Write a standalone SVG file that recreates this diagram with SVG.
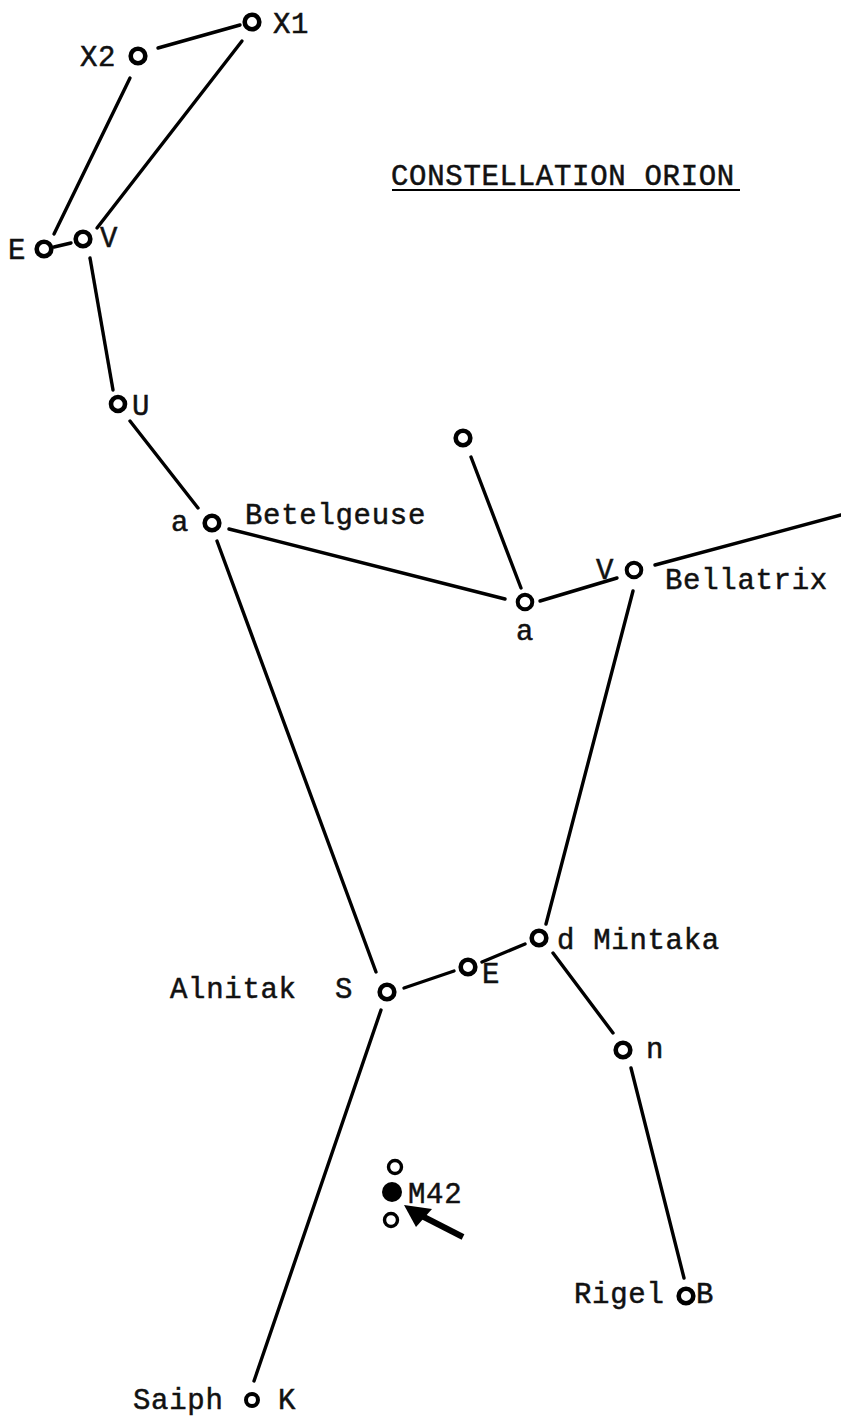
<svg xmlns="http://www.w3.org/2000/svg" width="841" height="1416" viewBox="0 0 841 1416">
<style>
text{font-family:"Liberation Mono","Courier New",monospace;font-size:29px;fill:#111;stroke:#111;stroke-width:0.5;letter-spacing:0.7px}
.star{fill:#fff;stroke:#000;stroke-width:4}
.big{stroke-width:4.6}
.c line{stroke:#000;stroke-width:3.4;stroke-linecap:round}
</style>
<rect width="841" height="1416" fill="#fff"/>
<g id="title">
<text x="391" y="185">CONSTELLATION ORION</text>
<line x1="392" y1="190" x2="740" y2="190" stroke="#000" stroke-width="2"/>
</g>
<g class="c" id="connectors">
<line x1="158" y1="48" x2="240" y2="25"/>
<line x1="242" y1="41" x2="97" y2="228"/>
<line x1="130" y1="78" x2="54" y2="234"/>
<line x1="54" y1="247" x2="71" y2="243"/>
<line x1="90" y1="258" x2="113" y2="390"/>
<line x1="130" y1="421" x2="198" y2="508"/>
<line x1="229" y1="529" x2="505" y2="599"/>
<line x1="471" y1="457" x2="521" y2="588"/>
<line x1="540" y1="601" x2="617" y2="578"/>
<line x1="655" y1="565" x2="841" y2="515"/>
<line x1="633" y1="591" x2="546" y2="924"/>
<line x1="217" y1="541" x2="376" y2="972"/>
<line x1="404" y1="988" x2="454" y2="971"/>
<line x1="482" y1="962" x2="525" y2="944"/>
<line x1="553" y1="953" x2="613" y2="1033"/>
<line x1="631" y1="1068" x2="684" y2="1278"/>
<line x1="381" y1="1010" x2="254" y2="1381"/>
</g>
<g id="arrow">
<line x1="463" y1="1237" x2="420" y2="1215" stroke="#000" stroke-width="6"/>
<polygon points="404,1205 432,1209 416,1227" fill="#000"/>
</g>
<g id="X1"><circle class="star big" cx="252" cy="22" r="7.3"/><text x="273" y="33">X1</text></g>
<g id="X2"><circle class="star big" cx="138" cy="56" r="7.3"/><text x="80" y="66">X2</text></g>
<g id="E-top"><circle class="star big" cx="44" cy="249" r="7.3"/><text x="8" y="259">E</text></g>
<g id="V-top"><circle class="star big" cx="83" cy="239" r="7.3"/><text x="100" y="247">V</text></g>
<g id="U"><circle class="star big" cx="118" cy="404" r="7"/><text x="132" y="415">U</text></g>
<g id="Betelgeuse"><circle class="star big" cx="212" cy="523" r="7.3"/><text x="171" y="531">a</text><text x="245" y="524">Betelgeuse</text></g>
<g id="top-star"><circle class="star big" cx="463" cy="438" r="7.3"/></g>
<g id="a-mid"><circle class="star" cx="525" cy="602" r="7.3"/><text x="516" y="640">a</text></g>
<g id="Bellatrix"><circle class="star" cx="634" cy="570" r="7.3"/><text x="596" y="579">V</text><text x="665" y="589">Bellatrix</text></g>
<g id="Mintaka"><circle class="star big" cx="539" cy="938" r="7.3"/><text x="557" y="949">d Mintaka</text></g>
<g id="E-mid"><circle class="star big" cx="468" cy="967" r="7.3"/><text x="482" y="983">E</text></g>
<g id="Alnitak"><circle class="star big" cx="387" cy="992" r="7.3"/><text x="335" y="998">S</text><text x="170" y="998">Alnitak</text></g>
<g id="n"><circle class="star big" cx="623" cy="1050" r="7.3"/><text x="646" y="1058">n</text></g>
<g id="M42">
<circle class="star" cx="395" cy="1167" r="6.5" style="stroke-width:3.4"/>
<circle cx="392" cy="1192" r="10" fill="#000"/>
<circle class="star" cx="391" cy="1220" r="6.5" style="stroke-width:3.4"/>
<text x="408" y="1203">M42</text>
</g>
<g id="Rigel"><circle class="star big" cx="686" cy="1296" r="7.3"/><text x="574" y="1303">Rigel</text><text x="696" y="1303">B</text></g>
<g id="Saiph"><circle class="star" cx="252" cy="1400" r="6" style="stroke-width:4"/><text x="133" y="1409">Saiph</text><text x="278" y="1409">K</text></g>
</svg>
